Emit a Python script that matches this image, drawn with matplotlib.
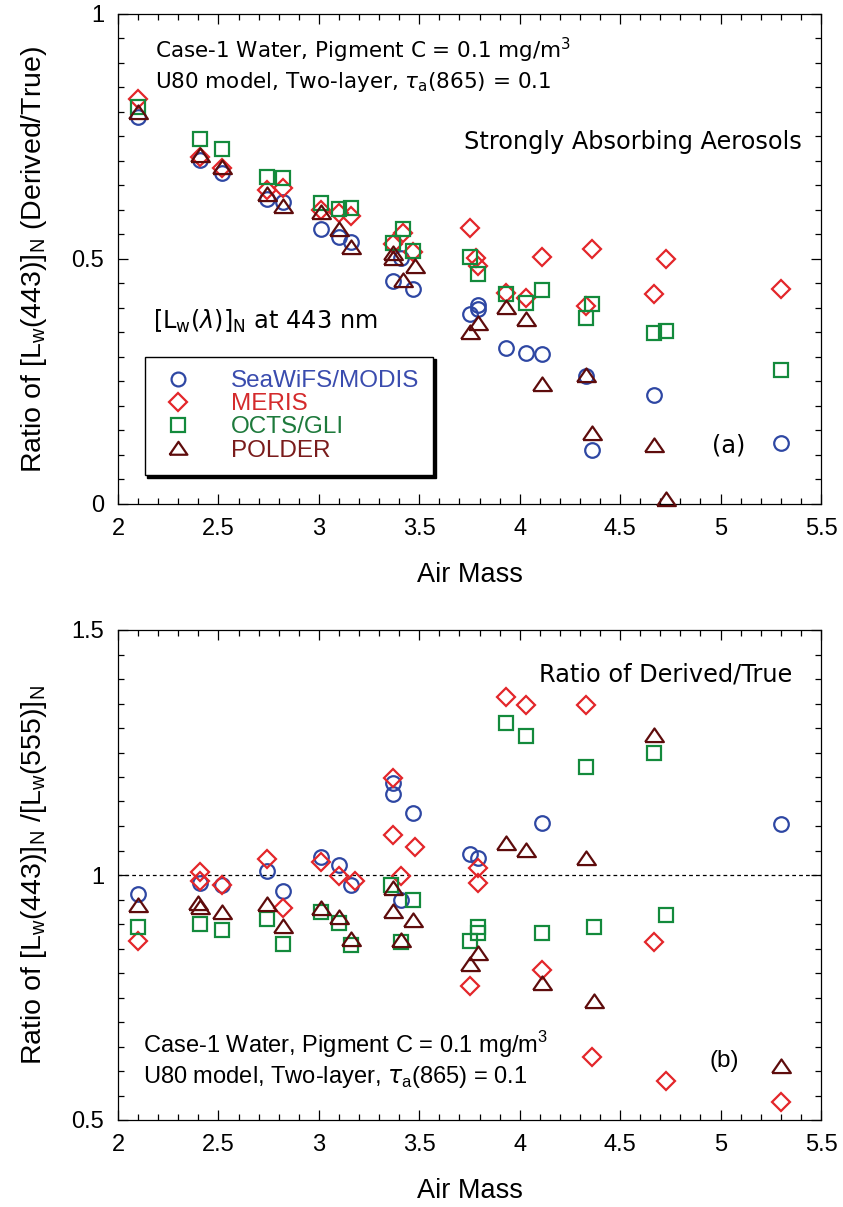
import matplotlib
matplotlib.use('Agg')
import matplotlib.pyplot as plt
from matplotlib.ticker import MultipleLocator, FuncFormatter

# ---- data: (a) Lw(443) ratio derived/true vs air mass ----
sw_x_a = [2.10, 2.41, 2.52, 2.74, 2.82, 3.01, 3.10, 3.16, 3.37, 3.41, 3.47, 3.75, 3.79, 3.79,
          3.93, 4.03, 4.11, 4.33, 4.36, 4.67, 5.30]
sw_y_a = [0.790, 0.702, 0.676, 0.622, 0.616, 0.562, 0.545, 0.535, 0.455, 0.503, 0.439, 0.388,
          0.406, 0.398, 0.318, 0.308, 0.306, 0.262, 0.110, 0.222, 0.124]
meris_x_a = [2.10, 2.41, 2.52, 2.74, 2.82, 3.01, 3.10, 3.16, 3.37, 3.42, 3.47, 3.75, 3.78, 3.79,
             3.93, 4.03, 4.11, 4.33, 4.36, 4.67, 4.73, 5.30]
meris_y_a = [0.826, 0.708, 0.685, 0.641, 0.645, 0.601, 0.593, 0.588, 0.530, 0.554, 0.515, 0.564,
             0.502, 0.486, 0.430, 0.420, 0.505, 0.404, 0.520, 0.428, 0.501, 0.438]
octs_x_a = [2.10, 2.41, 2.52, 2.74, 2.82, 3.01, 3.10, 3.16, 3.37, 3.42, 3.47, 3.75, 3.79, 3.93,
            4.03, 4.11, 4.33, 4.36, 4.67, 4.73, 5.30]
octs_y_a = [0.810, 0.745, 0.724, 0.668, 0.665, 0.614, 0.602, 0.604, 0.533, 0.561, 0.517, 0.505,
            0.469, 0.428, 0.410, 0.437, 0.379, 0.408, 0.349, 0.354, 0.273]
polder_x_a = [2.10, 2.41, 2.52, 2.74, 2.82, 3.01, 3.10, 3.16, 3.37, 3.37, 3.42, 3.48, 3.75, 3.79,
              3.93, 4.03, 4.11, 4.33, 4.36, 4.67, 4.73]
polder_y_a = [0.800, 0.712, 0.688, 0.633, 0.609, 0.595, 0.561, 0.525, 0.513, 0.502, 0.457, 0.486,
              0.352, 0.369, 0.403, 0.377, 0.245, 0.263, 0.145, 0.120, 0.010]

# ---- data: (b) Lw(443)/Lw(555) ratio derived/true vs air mass ----
sw_x_b = [2.10, 2.41, 2.52, 2.74, 2.82, 3.01, 3.10, 3.16, 3.37, 3.37, 3.41, 3.47, 3.75, 3.79,
          4.11, 5.30]
sw_y_b = [0.961, 0.983, 0.980, 1.009, 0.967, 1.036, 1.020, 0.980, 1.187, 1.165, 0.949, 1.127,
          1.043, 1.034, 1.107, 1.105]
meris_x_b = [2.10, 2.41, 2.41, 2.52, 2.74, 2.82, 3.01, 3.10, 3.18, 3.37, 3.37, 3.41, 3.48, 3.75,
             3.79, 3.79, 3.93, 4.03, 4.11, 4.33, 4.36, 4.67, 4.73, 5.30]
meris_y_b = [0.866, 1.007, 0.988, 0.980, 1.032, 0.933, 1.027, 0.997, 0.988, 1.197, 1.082, 0.998,
             1.058, 0.773, 1.014, 0.984, 1.363, 1.347, 0.806, 1.346, 0.629, 0.864, 0.579, 0.537]
octs_x_b = [2.10, 2.41, 2.52, 2.74, 2.82, 3.01, 3.10, 3.16, 3.36, 3.41, 3.47, 3.75, 3.79, 3.79,
            3.93, 4.03, 4.11, 4.33, 4.37, 4.67, 4.73]
octs_y_b = [0.893, 0.901, 0.888, 0.910, 0.859, 0.925, 0.903, 0.857, 0.980, 0.864, 0.950, 0.866,
            0.893, 0.881, 1.310, 1.284, 0.882, 1.221, 0.893, 1.250, 0.918]
polder_x_b = [2.10, 2.40, 2.41, 2.52, 2.74, 2.82, 3.01, 3.10, 3.16, 3.37, 3.37, 3.41, 3.47, 3.75,
              3.79, 3.93, 4.03, 4.11, 4.33, 4.37, 4.67, 5.30]
polder_y_b = [0.939, 0.942, 0.935, 0.925, 0.941, 0.896, 0.932, 0.915, 0.869, 0.973, 0.927, 0.867,
              0.908, 0.818, 0.841, 1.065, 1.052, 0.780, 1.034, 0.743, 1.286, 0.611]

sensors = ['SeaWiFS/MODIS', 'MERIS', 'OCTS/GLI', 'POLDER']
colors = ['#2e47a3', '#e3262a', '#138a3c', '#5e0c0c']
text_colors = ['#3a4cae', '#d42a2c', '#1e7a3c', '#7a1c1c']
tri = [(-1, -0.7), (1, -0.7), (0, 0.75), (-1, -0.7)]
markers = ['o', 'D', 's', tri]
sizes = [10.5, 9.5, 10, 13.5]

HF = 'Liberation Sans'
LF = 'DejaVu Sans'

fig = plt.figure(figsize=(8.43, 12.07), dpi=100)
ax1 = fig.add_axes([118 / 843, 1 - 504 / 1207, 703 / 843, 490 / 1207])
ax2 = fig.add_axes([118 / 843, 1 - 1120 / 1207, 703 / 843, 490 / 1207])

series_a = [(sw_x_a, sw_y_a), (meris_x_a, meris_y_a), (octs_x_a, octs_y_a), (polder_x_a, polder_y_a)]
series_b = [(sw_x_b, sw_y_b), (meris_x_b, meris_y_b), (octs_x_b, octs_y_b), (polder_x_b, polder_y_b)]

# draw order: circle, square, diamond, triangle
order = [0, 2, 1, 3]
handles = {}
for ax, series in ((ax1, series_a), (ax2, series_b)):
    for i in order:
        x, y = series[i]
        h, = ax.plot(x, y, linestyle='none', marker=markers[i], ms=sizes[i], mfc='none',
                     mec=colors[i], mew=1.6, clip_on=False, label=sensors[i], zorder=3 + i)
        if ax is ax1:
            handles[i] = h

fmt = FuncFormatter(lambda v, p: '%g' % round(v, 3))
for ax in (ax1, ax2):
    ax.set_xlim(2, 5.5)
    ax.xaxis.set_major_locator(MultipleLocator(0.5))
    ax.xaxis.set_minor_locator(MultipleLocator(0.1))
    ax.yaxis.set_major_locator(MultipleLocator(0.5))
    ax.yaxis.set_minor_locator(MultipleLocator(0.05))
    ax.xaxis.set_major_formatter(fmt)
    ax.yaxis.set_major_formatter(fmt)
    ax.tick_params(which='both', direction='in', top=True, right=True, width=0.9)
    ax.tick_params(which='major', length=7, labelsize=17, pad=10)
    ax.tick_params(which='minor', length=4)
    for lab in ax.get_xticklabels() + ax.get_yticklabels():
        lab.set_family(HF)
    for s in ax.spines.values():
        s.set_linewidth(0.9)
    ax.set_xlabel('Air Mass', fontsize=19.5, family=HF, labelpad=16)

ax1.set_ylim(0, 1)
ax2.set_ylim(0.5, 1.5)

ax1.set_ylabel(r'Ratio of [L$_\mathregular{w}$(443)]$_\mathregular{N}$ (Derived/True)',
               fontsize=20.5, family=HF, labelpad=16)
ax2.set_ylabel(r'Ratio of [L$_\mathregular{w}$(443)]$_\mathregular{N}$ /[L$_\mathregular{w}$(555)]$_\mathregular{N}$',
               fontsize=20.5, family=HF, labelpad=16)

ax2.axhline(1.0, color='black', lw=0.9, linestyle=(0, (3, 2.5)), zorder=1)

# annotations panel (a)
ax1.text(0.053, 0.925, r'Case-1 Water, Pigment C = 0.1 mg/m$^\mathregular{3}$',
         transform=ax1.transAxes, fontsize=15.5, family=LF, va='center')
ax1.text(0.053, 0.862, r'U80 model, Two-layer, $\tau_\mathregular{a}$(865) = 0.1',
         transform=ax1.transAxes, fontsize=15.5, family=LF, va='center')
ax1.text(0.972, 0.738, 'Strongly Absorbing Aerosols', transform=ax1.transAxes,
         fontsize=17.3, family=LF, ha='right', va='center')
ax1.text(0.05, 0.372, r'[L$_\mathregular{w}$($\lambda$)]$_\mathregular{N}$ at 443 nm',
         transform=ax1.transAxes, fontsize=17.3, family=LF, va='center')
ax1.text(0.868, 0.12, '(a)', transform=ax1.transAxes, fontsize=17.3, family=LF,
         ha='center', va='center')

leg = ax1.legend([handles[i] for i in range(4)], sensors, loc='lower left',
                 bbox_to_anchor=(0.038, 0.059), frameon=True, fancybox=False,
                 shadow={'color': 'black', 'alpha': 1}, edgecolor='black',
                 prop={'family': HF, 'size': 17.5}, labelspacing=0.05,
                 handlelength=1.6, handletextpad=1.4, borderpad=0.55,
                 borderaxespad=0, markerscale=0.95)
leg.get_frame().set_linewidth(1.0)
for t, c in zip(leg.get_texts(), text_colors):
    t.set_color(c)

# annotations panel (b)
ax2.text(0.959, 0.909, 'Ratio of Derived/True', transform=ax2.transAxes,
         fontsize=17.3, family=LF, ha='right', va='center')
ax2.text(0.035, 0.153, r'Case-1 Water, Pigment C = 0.1 mg/m$^\mathregular{3}$',
         transform=ax2.transAxes, fontsize=17, family=HF, va='center')
ax2.text(0.035, 0.087, r'U80 model, Two-layer, $\tau_\mathregular{a}$(865) = 0.1',
         transform=ax2.transAxes, fontsize=17, family=HF, va='center')
ax2.text(0.863, 0.120, '(b)', transform=ax2.transAxes, fontsize=17.5, family=HF,
         ha='center', va='center')

fig.savefig('out.png', dpi=100)
